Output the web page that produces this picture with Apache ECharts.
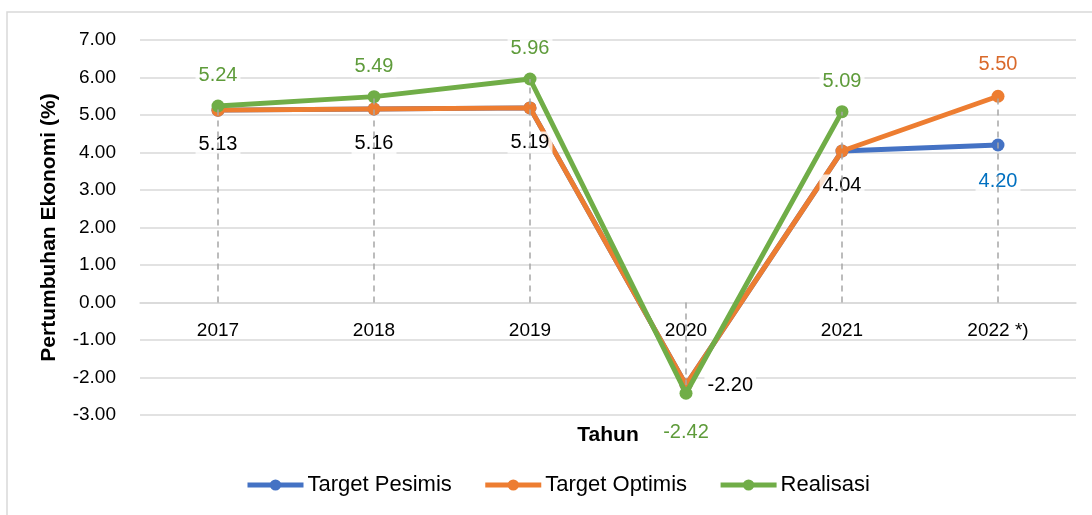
<!DOCTYPE html>
<html>
<head>
<meta charset="utf-8">
<script src="https://cdn.jsdelivr.net/npm/echarts@6/dist/echarts.min.js"></script>
<style>
  html, body { margin: 0; padding: 0; background: #fff; }
  #chart { width: 1092px; height: 515px; }
</style>
</head>
<body>
<div id="chart"></div>
<script>
var years = ['2017', '2018', '2019', '2020', '2021', '2022 *)'];
var pesimis = [5.13, 5.16, 5.19, -2.20, 4.04, 4.20];
var optimis = [5.13, 5.16, 5.19, -2.20, 4.04, 5.50];
var realisasi = [5.24, 5.49, 5.96, -2.42, 5.09, null];
var yMin = -3, yMax = 7;

var FONT = '"Liberation Sans", Arial, sans-serif';
var BLUE = '#4472C4', ORANGE = '#ED7D31', GREEN = '#70AD47';

var gridTop = 40, gridBottom = 100;
var plotH = 515 - gridTop - gridBottom;
// x axis sits on the zero line
var xOffset = -plotH * (0 - yMin) / (yMax - yMin);

var chart = echarts.init(document.getElementById('chart'));

// drop lines: from axis to the highest point of each year
var dropLines = years.map(function (y, i) {
  var top = Math.max(pesimis[i], optimis[i], realisasi[i] == null ? -Infinity : realisasi[i]);
  return [{ coord: [i, 0] }, { coord: [i, top] }];
});

function lbl(color, pos, dist) {
  return {
    show: true,
    position: pos,
    distance: dist,
    color: color,
    fontFamily: FONT,
    fontSize: 20,
    backgroundColor: 'rgba(255,255,255,0.8)',
    padding: [1, 3],
    formatter: function (p) { return p.value == null ? '' : p.value.toFixed(2); }
  };
}

var pesimisData = pesimis.map(function (v, i) {
  if (i === 5) return { value: v, label: lbl('#0070C0', 'bottom', 19) };
  return { value: v, label: { show: false } };
});
var optimisData = optimis.map(function (v, i) {
  if (i === 5) return { value: v, label: lbl('#D9692A', 'top', 14) };
  if (i === 3) return { value: v, label: lbl('#000', 'right', 12) };
  return { value: v, label: lbl('#000', 'bottom', 17) };
});
var realisasiData = realisasi.map(function (v, i) {
  if (i === 3) return { value: v, label: lbl('#5E9B3A', 'bottom', 22) };
  return { value: v, label: lbl('#5E9B3A', 'top', 13) };
});

var option = {
  animation: false,
  textStyle: { fontFamily: FONT },
  graphic: [{
    type: 'rect',
    shape: { x: 7, y: 12, width: 1200, height: 600 },
    style: { fill: 'none', stroke: '#D9D9D9', lineWidth: 1.5 },
    silent: true
  }],
  grid: { left: 140, right: 16, top: gridTop, bottom: gridBottom, containLabel: false, outerBoundsMode: 'none' },
  legend: {
    data: ['Target Pesimis', 'Target Optimis', 'Realisasi'],
    bottom: 14,
    left: 240,
    itemWidth: 56,
    itemHeight: 14,
    itemGap: 31,
    lineStyle: { width: 5 },
    textStyle: { fontFamily: FONT, fontSize: 22, color: '#000', padding: [0, 0, 0, -1] }
  },
  xAxis: {
    type: 'category',
    data: years,
    offset: xOffset,
    axisLine: { show: true, onZero: false, lineStyle: { color: '#D9D9D9', width: 1.5 } },
    axisTick: { show: false },
    axisLabel: { color: '#000', fontSize: 19, fontFamily: FONT, margin: 19 },
    name: 'Tahun',
    nameLocation: 'middle',
    nameGap: 122,
    nameTextStyle: { fontFamily: FONT, fontWeight: 'bold', fontSize: 21, color: '#000' }
  },
  yAxis: {
    type: 'value',
    min: yMin,
    max: yMax,
    interval: 1,
    axisLine: { show: false },
    axisTick: { show: false },
    splitLine: { lineStyle: { color: '#D9D9D9', width: 1.5 } },
    axisLabel: {
      color: '#000', fontSize: 19, fontFamily: FONT, margin: 24,
      formatter: function (v) { return v.toFixed(2); }
    },
    name: 'Pertumbuhan Ekonomi (%)',
    nameLocation: 'middle',
    nameGap: 80,
    nameTextStyle: { fontFamily: FONT, fontWeight: 'bold', fontSize: 21, color: '#000' }
  },
  series: [
    {
      name: 'drop',
      type: 'line',
      data: [],
      z: 1,
      silent: true,
      markLine: {
        silent: true,
        symbol: 'none',
        label: { show: false },
        lineStyle: { color: '#A6A6A6', type: [6, 5], width: 1.5 },
        data: dropLines
      }
    },
    {
      name: 'Target Pesimis',
      type: 'line',
      data: pesimisData,
      color: BLUE,
      symbol: 'circle',
      symbolSize: 13,
      lineStyle: { width: 5 },
      z: 2
    },
    {
      name: 'Target Optimis',
      type: 'line',
      data: optimisData,
      color: ORANGE,
      symbol: 'circle',
      symbolSize: 13,
      lineStyle: { width: 5 },
      z: 3
    },
    {
      name: 'Realisasi',
      type: 'line',
      data: realisasiData,
      color: GREEN,
      symbol: 'circle',
      symbolSize: 13,
      lineStyle: { width: 5 },
      z: 4
    }
  ]
};

chart.setOption(option);
</script>
</body>
</html>
